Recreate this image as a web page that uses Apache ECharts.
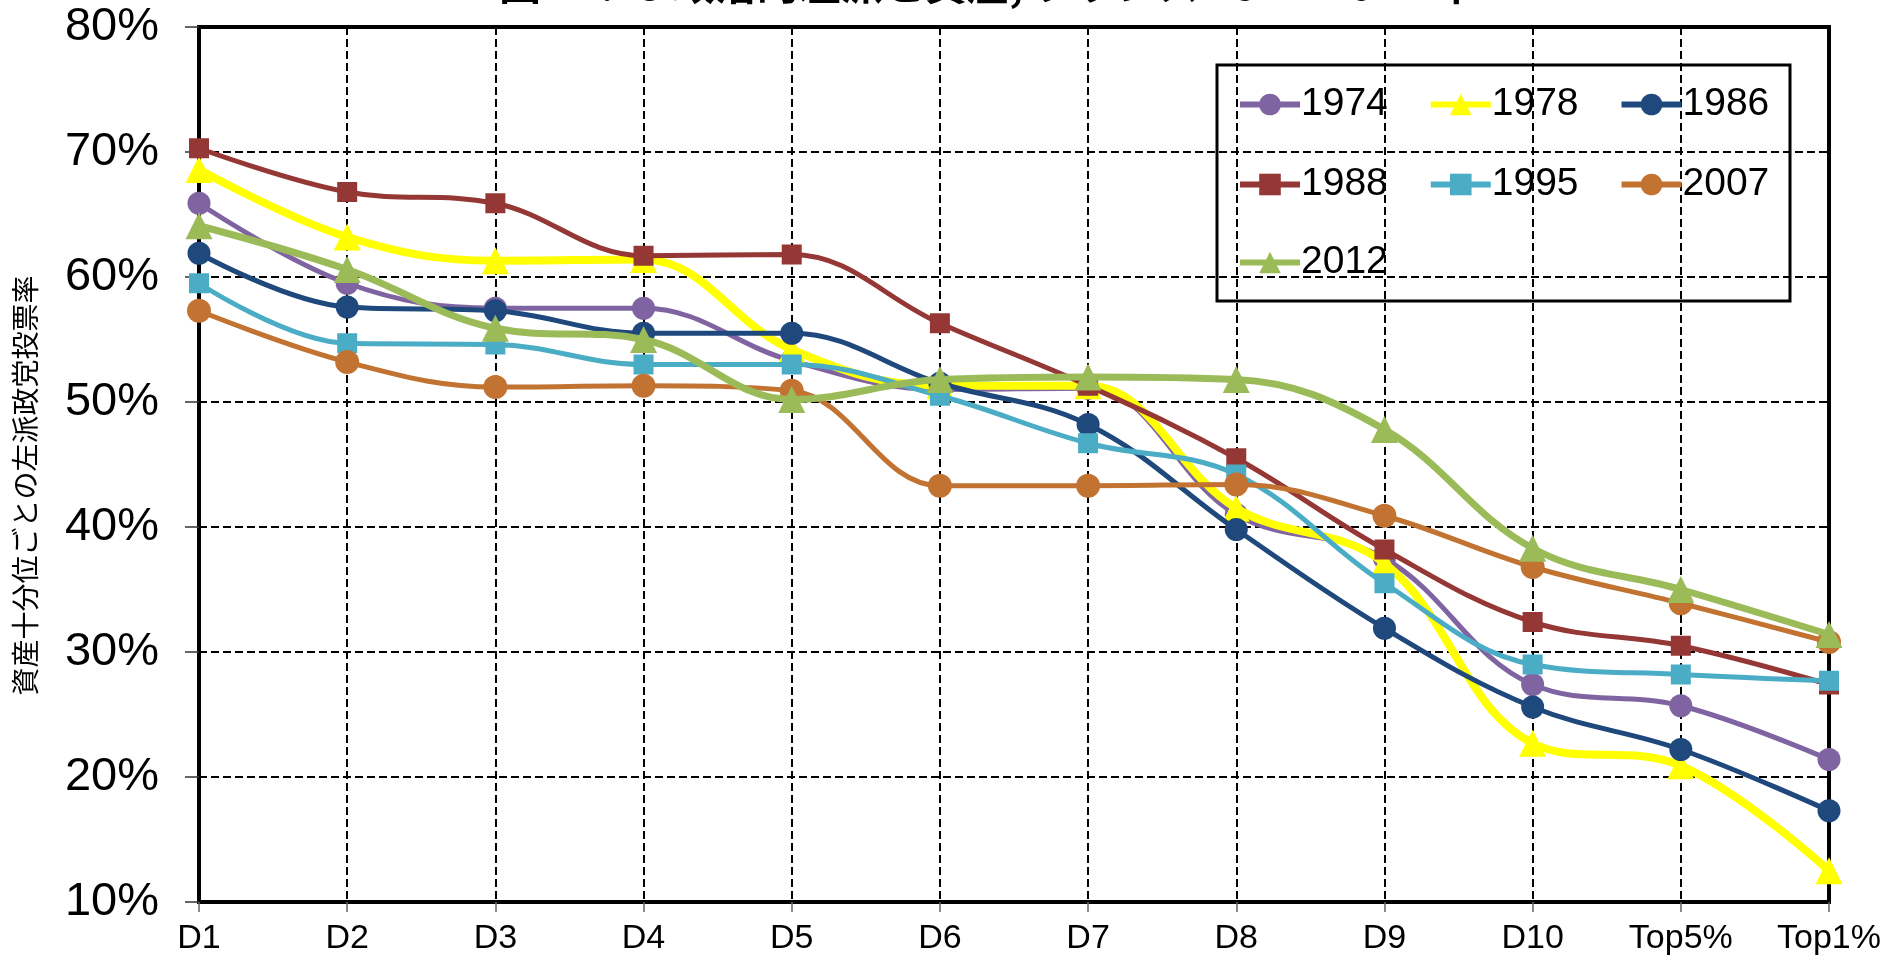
<!DOCTYPE html>
<html>
<head>
<meta charset="utf-8">
<script src="https://cdn.jsdelivr.net/npm/echarts@6/dist/echarts.min.js"></script>
<style>
html,body{margin:0;padding:0;background:#fff;}
#chart{width:1891px;height:964px;}
</style>
</head>
<body>
<div id="chart"></div>
<script>
const titleText = '図 14.15 政治的左派と資産, フランス 1974-2012 年';
const yAxisName = '資産十分位ごとの左派政党投票率';
const categories = ['D1','D2','D3','D4','D5','D6','D7','D8','D9','D10','Top5%','Top1%'];
const yTicks = { min: 10, max: 80, interval: 10 };

const names = ['1974','1978','1986','1988','1995','2007','2012'];
const v1974 = [65.9, 59.5, 57.5, 57.5, 53.3, 51.0, 51.1, 41.0, 37.5, 27.4, 25.7, 21.4];
const v1978 = [68.6, 63.2, 61.3, 61.4, 54.2, 51.3, 51.3, 41.5, 37.1, 22.7, 20.9, 12.5];
const v1986 = [61.9, 57.6, 57.3, 55.5, 55.5, 51.5, 48.2, 39.8, 31.9, 25.6, 22.2, 17.3];
const v1988 = [70.3, 66.8, 65.9, 61.7, 61.8, 56.3, 51.3, 45.5, 38.2, 32.4, 30.5, 27.4];
const v1995 = [59.5, 54.7, 54.6, 53.0, 53.0, 50.5, 46.7, 44.2, 35.5, 29.0, 28.2, 27.7];
const v2007 = [57.3, 53.2, 51.2, 51.3, 50.9, 43.3, 43.3, 43.4, 40.9, 36.8, 33.9, 30.8];
const v2012 = [64.1, 60.6, 55.9, 55.0, 50.2, 51.8, 52.0, 51.8, 47.8, 38.3, 35.0, 31.4];

const seriesData = [v1974, v1978, v1986, v1988, v1995, v2007, v2012];
const colors = ['#8064A2', '#FFFF00', '#1F497D', '#953735', '#4BACC6', '#C27331', '#9BBB59'];
const symbols = ['circle', 'triangle', 'circle', 'rect', 'rect', 'circle', 'triangle'];
const symbolSizes = [23, 27, 23, 20, 20, 24, 27];
const lineWidths = [5, 8, 5, 5, 5, 5, 7];

const FONT = '"Liberation Sans", Arial, sans-serif';

const chart = echarts.init(document.getElementById('chart'));

const series = names.map((n, i) => ({
  name: n,
  type: 'line',
  data: seriesData[i],
  smooth: 0.38,
  symbol: symbols[i],
  symbolSize: symbolSizes[i],
  showAllSymbol: true,
  color: colors[i],
  itemStyle: { color: colors[i] },
  lineStyle: { color: colors[i], width: lineWidths[i] },
  emphasis: { disabled: true },
  z: 2 + i
}));

const legendCommon = {
  orient: 'horizontal',
  left: 1232,
  itemWidth: 60,
  itemHeight: 27,
  itemGap: 40,
  selectedMode: false,
  lineStyle: { width: 6 },
  textStyle: { fontFamily: FONT, fontSize: 39, color: '#000', padding: [0,0,0,-4] }
};

chart.setOption({
  animation: false,
  backgroundColor: '#fff',
  title: {
    text: titleText,
    left: 982,
    textAlign: 'center',
    top: -42,
    textStyle: { fontFamily: '"Noto Sans CJK JP", sans-serif', fontSize: 42, fontWeight: 'bold', color: '#000' }
  },
  grid: {
    left: 199, right: 62, top: 27, bottom: 62,
    show: true, borderColor: '#000', borderWidth: 4, backgroundColor: 'transparent'
  },
  legend: [
    Object.assign({}, legendCommon, { data: names.slice(0, 3), top: 103 - 23 }),
    Object.assign({}, legendCommon, { data: names.slice(3, 6), top: 183 - 23 }),
    Object.assign({}, legendCommon, { data: names.slice(6, 7), top: 261 - 23 })
  ],
  graphic: [{
    type: 'rect',
    shape: { x: 1217, y: 65, width: 573, height: 236 },
    style: { fill: '#fff', stroke: '#000', lineWidth: 3 },
    z: 0, zlevel: 0
  }],
  xAxis: {
    type: 'category',
    data: categories,
    boundaryGap: false,
    axisLine: { show: true, lineStyle: { color: '#000', width: 4 } },
    axisTick: { show: true, length: 10, lineStyle: { color: '#666', width: 1.5 } },
    axisLabel: { fontFamily: FONT, fontSize: 34, color: '#000', margin: 20 },
    splitLine: { show: true, lineStyle: { color: '#000', width: 2, type: [8, 4] } }
  },
  yAxis: {
    type: 'value',
    min: yTicks.min, max: yTicks.max, interval: yTicks.interval,
    name: yAxisName,
    nameLocation: 'middle',
    nameRotate: 90,
    nameGap: 160,
    nameTextStyle: { fontFamily: '"Noto Sans CJK JP", sans-serif', fontSize: 28, color: '#000', padding: [0, 42, 0, 0] },
    axisLine: { show: true, lineStyle: { color: '#000', width: 4 } },
    axisTick: { show: true, length: 14, lineStyle: { color: '#333', width: 1.5 } },
    axisLabel: { fontFamily: FONT, fontSize: 47, color: '#000', margin: 40, formatter: '{value}%' },
    splitLine: { show: true, lineStyle: { color: '#000', width: 2, type: [8, 4] } }
  },
  series: series
});
</script>
</body>
</html>
